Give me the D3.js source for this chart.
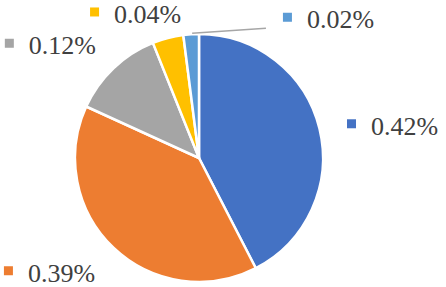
<!DOCTYPE html>
<html><head><meta charset="utf-8">
<script src="https://cdn.jsdelivr.net/npm/d3@7"></script>
</head><body style="margin:0;font-family:'Times New Roman',serif">
<svg id="chart" width="446" height="287" style="font-family:'Times New Roman',serif"></svg>
<script>
const categories = ["A", "B", "C", "D", "E"];
const values = [0.42, 0.39, 0.12, 0.04, 0.02];
const labels = ["0.42%", "0.39%", "0.12%", "0.04%", "0.02%"];
const colors = ["#4472C4", "#ED7D31", "#A5A5A5", "#FFC000", "#5B9BD5"];
// label nudges relative to outer arc point (layout only)
const labelNudge = [[27.5, 6], [-109.5, 34], [-108.6, -14], [-77.8, -15], [91.8, -6]];
const leader = [false, false, false, false, true];

const svg = d3.select("#chart");
const cx = 199, cy = 158, R = 124;

const pie = d3.pie().sort(null).value(d => d.v);
const data = categories.map((c, i) => ({c, v: values[i], i}));
const arcs = pie(data);
const arc = d3.arc().innerRadius(0).outerRadius(R);

const g = svg.append("g").attr("transform", `translate(${cx},${cy})`);
g.selectAll("path.slice").data(arcs).enter().append("path")
  .attr("class", "slice")
  .attr("d", arc)
  .attr("fill", d => colors[d.data.i])
  .attr("stroke", "#fff")
  .attr("stroke-width", 2.5)
  .attr("stroke-linejoin", "round");

arcs.forEach(d => {
  const i = d.data.i;
  const mid = (d.startAngle + d.endAngle) / 2;
  const px = cx + R * Math.sin(mid), py = cy - R * Math.cos(mid);
  const lx = px + labelNudge[i][0], ly = py + labelNudge[i][1];
  if (leader[i]) {
    svg.append("line")
      .attr("x1", px + 1).attr("y1", py - 1)
      .attr("x2", lx - 17).attr("y2", ly)
      .attr("stroke", "#A6A6A6").attr("stroke-width", 1.3);
  }
  svg.append("rect")
    .attr("x", lx).attr("y", ly - 15.5)
    .attr("width", 9).attr("height", 9)
    .attr("fill", colors[i]);
  svg.append("text")
    .attr("x", lx + 24).attr("y", ly)
    .attr("font-family", "Times New Roman")
    .style("font-size", "26px")
    .style("fill", "#404040")
    .text(labels[i]);
});
</script>
</body></html>
